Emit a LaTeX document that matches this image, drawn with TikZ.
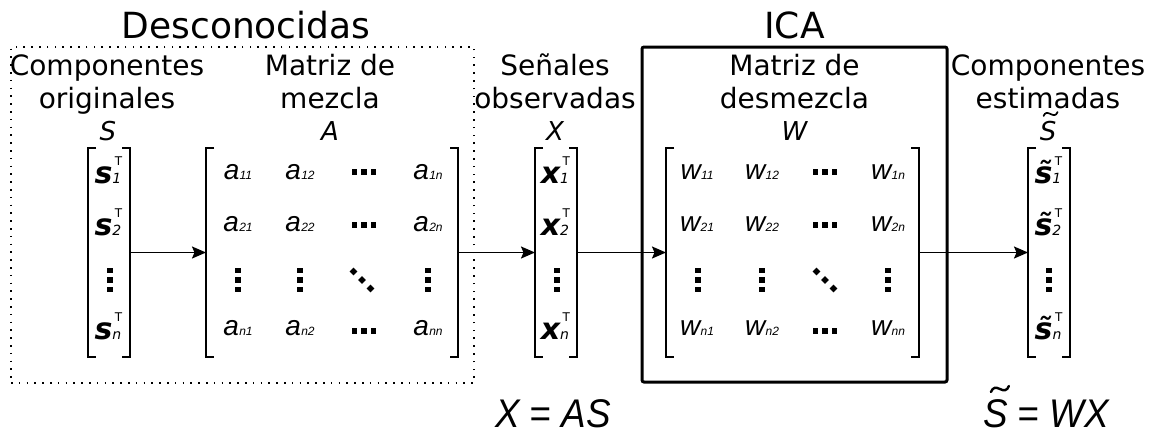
\documentclass[tikz,border=0pt]{standalone}
\usepackage{fontspec}
\setmainfont{DejaVu Sans}
\newfontfamily\arfont{Liberation Sans}
\usetikzlibrary{arrows.meta}

% font size shorthand (sizes in pt, one pt per unit of the picture)
\newcommand\fs[1]{\fontsize{#1}{#1}\selectfont}
% matrix entry: italic letter with a small subscript on the baseline
\newcommand\ment[2]{{\arfont\itshape\fs{28}#1\kern0.3pt{\fs{12}#2}}}
% bold row vector with transpose mark and subscript
\newcommand\vent[2]{{\bfseries\itshape\fs{30}#1}\rlap{\kern2.5pt\raisebox{18pt}{\upshape\fs{12}T}}{\itshape\fs{14}#2}}
% dotted placeholders made of small squares
\newcommand\mxrow[2]{\foreach \k in {-1,0,1}{\fill ({#1+9.5*\k-2.8},{#2-2.8}) rectangle ++(5.6,5.6);}}
\newcommand\mxcol[2]{\foreach \k in {-1,0,1}{\fill ({#1-2.8},{#2+9.5*\k-2.8}) rectangle ++(5.6,5.6);}}
\newcommand\mxdiag[2]{\foreach \k in {-1,0,1}{\fill ({#1+8.5*\k},{#2+8.5*\k-3.8}) -- ++(3.8,3.8) -- ++(-3.8,3.8) -- ++(-3.8,-3.8) -- cycle;}}

\begin{document}
\begin{tikzpicture}[x=1pt,y=-1pt,
  lab/.style={anchor=base, inner sep=0, font=\fs{28}},
  ttl/.style={anchor=base, inner sep=0, font=\fs{36}},
  sym/.style={anchor=base, inner sep=0, font=\itshape\fs{26}},
  ent/.style={anchor=base, inner sep=0},
  eqn/.style={anchor=base, inner sep=0, text depth=0pt},
  mat/.style={inner sep=0, outer sep=0, minimum height=209pt},
  brk/.style={line width=1.3pt},
  arr/.style={line width=1.8pt, -{Stealth[length=14pt,width=12pt,inset=2.5pt]}},
  tld/.style={line cap=round},
]
\useasboundingbox (0,0) rectangle (1154,434);

% group frames
\node[draw, dash pattern=on 1.6pt off 6.2pt, line width=1.4pt, inner sep=0,
      minimum width=463pt, minimum height=336pt] (unkbox) at (242.5,215) {};
\node[draw, line width=3pt, rounded corners=2pt, inner sep=0,
      minimum width=305pt, minimum height=335pt] (icabox) at (794.5,214.5) {};

% titles
\node[ttl] (unk) at (246,38) {Desconocidas};
\node[ttl] (icat) at (794.5,38) {ICA};

% column captions
\node[lab] (c1a) at (107,75) {Componentes};
\node[lab] (c1b) at (107,108) {originales};
\node[sym] (c1s) at (108,140) {S};
\node[lab] (c2a) at (330,75) {Matriz de};
\node[lab] (c2b) at (330,108) {mezcla};
\node[sym] (c2s) at (330,140) {A};
\node[lab] (c3a) at (555,75) {Señales};
\node[lab] (c3b) at (555,108) {observadas};
\node[sym] (c3s) at (555,140) {X};
\node[lab] (c4a) at (794.5,75) {Matriz de};
\node[lab] (c4b) at (794.5,108) {desmezcla};
\node[sym] (c4s) at (794.5,140) {W};
\node[lab] (c5a) at (1048,75) {Componentes};
\node[lab] (c5b) at (1048,108) {estimadas};
\node[sym] (c5s) at (1048,140) {S};
% tilde over the caption S
\draw[tld, line width=1.7pt]
  ([shift={(4,-24)}]c5s.base west) .. controls +(1.5,-4) and +(-3,-1.5) .. ++(7,-2)
  .. controls +(3,1.5) and +(-1.5,4) .. ++(7,-2);

% matrix bodies
\node[mat, minimum width=42pt]  (S)  at (109,252.5) {};
\node[mat, minimum width=252pt] (A)  at (332,252.5) {};
\node[mat, minimum width=42pt]  (X)  at (556,252.5) {};
\node[mat, minimum width=253pt] (W)  at (792.5,252.5) {};
\node[mat, minimum width=42pt]  (St) at (1049,252.5) {};

\foreach \m in {S,A,X,W,St}{
  \draw[brk] ([xshift=8pt]\m.north west) -- (\m.north west) -- (\m.south west) -- ([xshift=8pt]\m.south west);
  \draw[brk] ([xshift=-8pt]\m.north east) -- (\m.north east) -- (\m.south east) -- ([xshift=-8pt]\m.south east);
}

% S
\node[ent] (s1) at (108,183) {\vent{s}{1}};
\node[ent] (s2) at (108,235) {\vent{s}{2}};
\node[ent] (sn) at (108,339) {\vent{s}{n}};
\mxcol{110}{280}

% A
\node[ent] (a11) at (238,179) {\ment{a}{11}};
\node[ent] (a12) at (300,179) {\ment{a}{12}};
\node[ent] (a1n) at (428,179) {\ment{a}{1n}};
\node[ent] (a21) at (238,231) {\ment{a}{21}};
\node[ent] (a22) at (300,231) {\ment{a}{22}};
\node[ent] (a2n) at (428,231) {\ment{a}{2n}};
\node[ent] (an1) at (238,335) {\ment{a}{n1}};
\node[ent] (an2) at (300,335) {\ment{a}{n2}};
\node[ent] (ann) at (428,335) {\ment{a}{nn}};
\mxrow{364}{172}
\mxrow{364}{225}
\mxrow{364}{331}
\mxcol{238}{280}
\mxcol{300}{280}
\mxcol{428}{280}
\mxdiag{362}{280}

% X
\node[ent] (x1) at (555,183) {\vent{x}{1}};
\node[ent] (x2) at (555,235) {\vent{x}{2}};
\node[ent] (xn) at (555,339) {\vent{x}{n}};
\mxcol{557}{280}

% W
\node[ent] (w11) at (697,179) {\ment{w}{11}};
\node[ent] (w12) at (762,179) {\ment{w}{12}};
\node[ent] (w1n) at (888,179) {\ment{w}{1n}};
\node[ent] (w21) at (697,231) {\ment{w}{21}};
\node[ent] (w22) at (762,231) {\ment{w}{22}};
\node[ent] (w2n) at (888,231) {\ment{w}{2n}};
\node[ent] (wn1) at (697,335) {\ment{w}{n1}};
\node[ent] (wn2) at (762,335) {\ment{w}{n2}};
\node[ent] (wnn) at (888,335) {\ment{w}{nn}};
\mxrow{825}{172}
\mxrow{825}{225}
\mxrow{825}{331}
\mxcol{698}{280}
\mxcol{762}{280}
\mxcol{888}{280}
\mxdiag{825}{280}

% estimated components
\node[ent] (t1) at (1048,183) {\vent{s^^^^0303}{1}};
\node[ent] (t2) at (1048,235) {\vent{s^^^^0303}{2}};
\node[ent] (tn) at (1048,339) {\vent{s^^^^0303}{n}};
\mxcol{1049}{280}

% flow
\draw[arr] (S.east) -- (A.west);
\draw[arr] (A.east) -- (X.west);
\draw[arr] (X.east) -- (W.west);
\draw[arr] (W.east) -- (St.west);

% model equations
\node[eqn] (eq1) at (553,427) {\scalebox{0.92}[1]{\arfont\itshape\fs{40}X = AS}};
\node[eqn] (eq2) at (1046,427) {\scalebox{0.92}[1]{\arfont\itshape\fs{40}S = WX}};
% tilde over the S of the second equation
\draw[tld, line width=2.4pt]
  ([shift={(8,-35)}]eq2.base west) .. controls +(2,-5) and +(-4,-2) .. ++(9,-3)
  .. controls +(4,2) and +(-2,5) .. ++(9,-3);
\end{tikzpicture}
\end{document}
